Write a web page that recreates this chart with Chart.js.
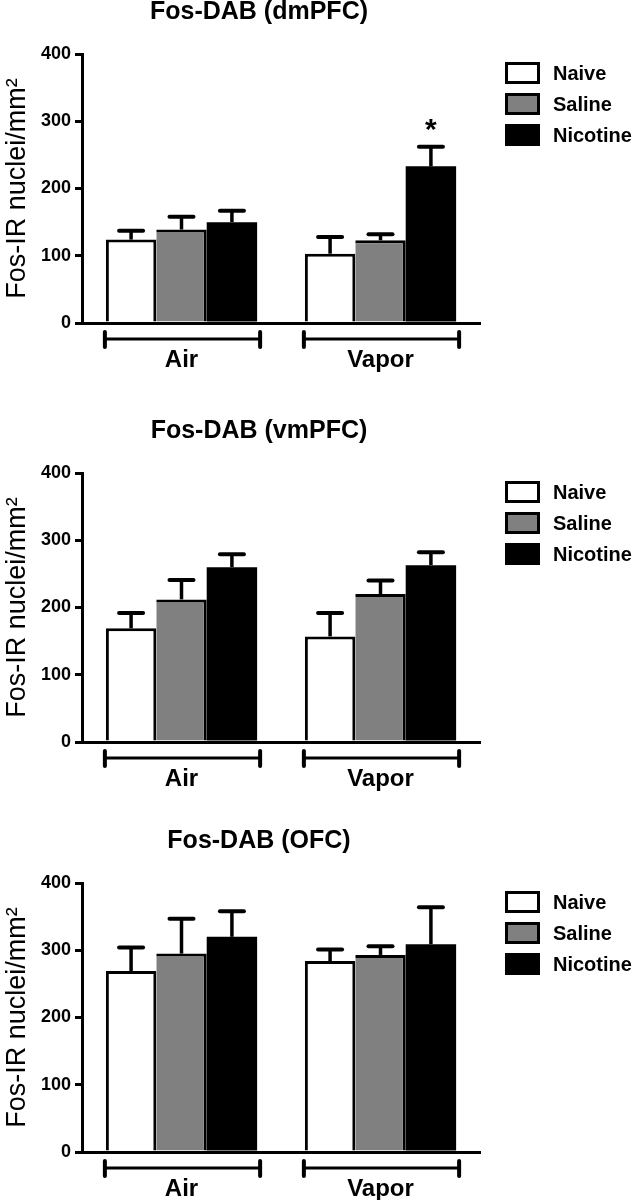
<!DOCTYPE html>
<html>
<head>
<meta charset="utf-8">
<script src="https://cdn.jsdelivr.net/npm/chart.js@4.4.1/dist/chart.umd.min.js"></script>
<style>
  html, body { margin: 0; padding: 0; background: #fff; overflow: hidden; }
  .panel { position: absolute; left: 0; width: 636px; height: 378px; }
</style>
</head>
<body>
<div class="panel" style="top:0px"><canvas id="chartDm" width="636" height="378"></canvas></div>
<div class="panel" style="top:419px"><canvas id="chartVm" width="636" height="378"></canvas></div>
<div class="panel" style="top:829px"><canvas id="chartOfc" width="636" height="378"></canvas></div>
<script>
// ---- data ----
const groups = ["Air", "Vapor"];
const treatments = ["Naive", "Saline", "Nicotine"];
const yTicks = [0, 100, 200, 300, 400];
const yLabel = "Fos-IR nuclei/mm²";

// rows = Naive, Saline, Nicotine ; columns = Air, Vapor
const dmTitle = "Fos-DAB (dmPFC)";
const dmMeans = [[124, 103], [139, 123], [150, 233]];
const dmErr = [[13, 25], [19, 9], [17, 29]];
const dmStars = [["", ""], ["", ""], ["", "*"]];

const vmTitle = "Fos-DAB (vmPFC)";
const vmMeans = [[169, 157], [212, 220], [260, 263]];
const vmErr = [[23, 35], [29, 20], [19, 19]];
const vmStars = [["", ""], ["", ""], ["", ""]];

const ofcTitle = "Fos-DAB (OFC)";
const ofcMeans = [[269, 284], [295, 293], [320, 309]];
const ofcErr = [[35, 17], [52, 13], [38, 55]];
const ofcStars = [["", ""], ["", ""], ["", ""]];

// ---- style ----
const FONT = '"Liberation Sans", Arial, Helvetica, sans-serif';
const fills = ["#ffffff", "#808080", "#000000"];
const borders = [
  { top: 3, left: 3, right: 3, bottom: 0 },
  { top: 3, left: 0, right: 3, bottom: 0 },
  0
];

Chart.defaults.color = "#000";
Chart.defaults.font.family = FONT;

// error bars, significance stars, group brackets, title and legend
const decor = {
  id: "decor",
  afterDatasetsDraw(chart, args, opts) {
    const ctx = chart.ctx, y = chart.scales.y;
    ctx.save();
    ctx.strokeStyle = "#000";
    ctx.fillStyle = "#000";
    chart.data.datasets.forEach((ds, d) => {
      const meta = chart.getDatasetMeta(d);
      ds.data.forEach((v, i) => {
        const bar = meta.data[i];
        const top = y.getPixelForValue(v + opts.err[d][i]);
        ctx.lineWidth = 3.5; ctx.lineCap = "butt";
        ctx.beginPath(); ctx.moveTo(bar.x, bar.y); ctx.lineTo(bar.x, top); ctx.stroke();
        ctx.lineWidth = 4; ctx.lineCap = "round";
        ctx.beginPath(); ctx.moveTo(bar.x - 12, top); ctx.lineTo(bar.x + 12, top); ctx.stroke();
        const s = opts.stars[d][i];
        if (s) {
          ctx.font = "bold 30px " + FONT;
          ctx.textAlign = "center"; ctx.textBaseline = "alphabetic";
          ctx.fillText(s, bar.x, top - 8);
        }
      });
    });
    ctx.restore();
  },
  afterDraw(chart, args, opts) {
    const ctx = chart.ctx, area = chart.chartArea;
    const first = chart.getDatasetMeta(0), last = chart.getDatasetMeta(chart.data.datasets.length - 1);
    ctx.save();
    ctx.strokeStyle = "#000";
    ctx.fillStyle = "#000";

    // brackets under each group
    const by = area.bottom + 16;
    chart.data.labels.forEach((lab, i) => {
      const l = first.data[i].x - first.data[i].width / 2 - 1;
      const r = last.data[i].x + last.data[i].width / 2 + 3;
      ctx.lineWidth = 3; ctx.lineCap = "butt";
      ctx.beginPath(); ctx.moveTo(l, by); ctx.lineTo(r, by); ctx.stroke();
      ctx.lineWidth = 4; ctx.lineCap = "round";
      ctx.beginPath(); ctx.moveTo(l, by - 7); ctx.lineTo(l, by + 8); ctx.stroke();
      ctx.beginPath(); ctx.moveTo(r, by - 7); ctx.lineTo(r, by + 8); ctx.stroke();
    });

    // title
    ctx.font = "bold 25px " + FONT;
    ctx.textAlign = "center"; ctx.textBaseline = "middle";
    ctx.fillText(opts.title, opts.titleX, opts.titleY);

    // legend
    const lx = area.right + 25;
    chart.data.datasets.forEach((ds, d) => {
      const ty = area.top + 8 + d * 31;
      ctx.fillStyle = "#000";
      ctx.fillRect(lx, ty, 35, 22);
      ctx.fillStyle = ds.backgroundColor;
      ctx.fillRect(lx + 3, ty + 3, 29, 16);
      ctx.fillStyle = "#000";
      ctx.font = "bold 20px " + FONT;
      ctx.textAlign = "left"; ctx.textBaseline = "middle";
      ctx.fillText(ds.label, lx + 48, ty + 12);
    });
    ctx.restore();
  }
};

function makePanel(id, title, means, err, stars) {
  return new Chart(document.getElementById(id), {
    type: "bar",
    data: {
      labels: groups,
      datasets: treatments.map((t, d) => ({
        label: t,
        data: means[d],
        backgroundColor: fills[d],
        borderColor: "#000",
        borderWidth: borders[d],
        categoryPercentage: 0.76,
        barPercentage: 1.0
      }))
    },
    options: {
      responsive: false,
      animation: false,
      devicePixelRatio: 1,
      layout: { padding: { top: 54, right: 156, left: 0, bottom: 0 } },
      plugins: {
        legend: { display: false },
        tooltip: { enabled: false },
        title: { display: false },
        decor: { title, titleX: 259, titleY: 12, err, stars }
      },
      scales: {
        x: {
          grid: { display: false, drawTicks: false },
          border: { display: true, color: "#000", width: 3 },
          ticks: { font: { size: 24, weight: "bold" }, padding: 23, color: "#000" },
          afterFit: s => { s.height = 55; }
        },
        y: {
          min: yTicks[0],
          max: yTicks[yTicks.length - 1],
          afterBuildTicks: s => { s.ticks = yTicks.map(v => ({ value: v })); },
          grid: { display: true, drawOnChartArea: false, drawTicks: true, tickLength: 7, color: "#000", lineWidth: 3 },
          border: { display: true, color: "#000", width: 3 },
          ticks: { font: { size: 18, weight: "bold" }, padding: 4, color: "#000" },
          title: { display: true, text: yLabel, font: { size: 27 }, padding: { top: 1, bottom: 0 }, color: "#000" },
          afterFit: s => { s.width = 82; }
        }
      }
    },
    plugins: [decor]
  });
}

makePanel("chartDm", dmTitle, dmMeans, dmErr, dmStars);
makePanel("chartVm", vmTitle, vmMeans, vmErr, vmStars);
makePanel("chartOfc", ofcTitle, ofcMeans, ofcErr, ofcStars);
</script>
</body>
</html>
